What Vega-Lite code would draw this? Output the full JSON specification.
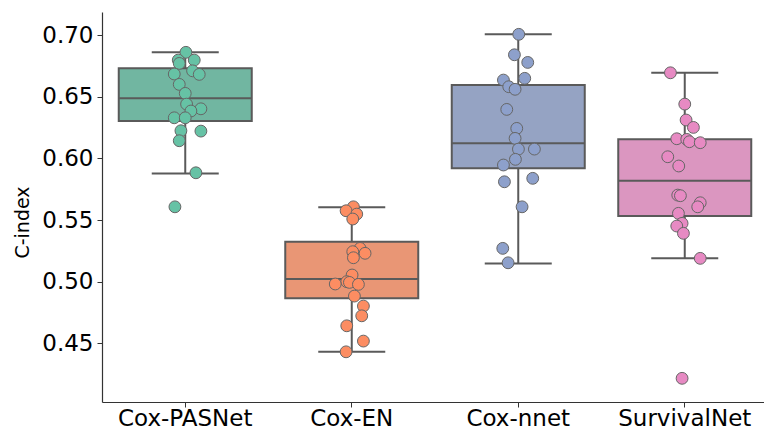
{
  "$schema": "https://vega.github.io/schema/vega-lite/v6.json",
  "autosize": {"type": "none"},
  "width": 662,
  "height": 390,
  "padding": {"left": 102, "top": 12, "right": 0, "bottom": 27},
  "background": "white",
  "config": {
    "view": {"stroke": null},
    "font": "DejaVu Sans",
    "axis": {
      "labelFont": "DejaVu Sans",
      "labelFontSize": 23,
      "labelColor": "#000000",
      "titleFont": "DejaVu Sans",
      "titleFontSize": 19,
      "titleFontWeight": "normal",
      "titleColor": "#000000",
      "tickColor": "#333333",
      "tickSize": 5,
      "domainColor": "#333333",
      "domainWidth": 1.2,
      "grid": false
    }
  },
  "datasets": {
    "boxes": [
      {"model": "Cox-PASNet", "lo": 0.5878, "q1": 0.6303, "med": 0.6487, "q3": 0.6730, "hi": 0.6860},
      {"model": "Cox-EN", "lo": 0.4431, "q1": 0.4865, "med": 0.5021, "q3": 0.5324, "hi": 0.5603},
      {"model": "Cox-nnet", "lo": 0.5148, "q1": 0.5919, "med": 0.6122, "q3": 0.6594, "hi": 0.7006},
      {"model": "SurvivalNet", "lo": 0.5189, "q1": 0.5532, "med": 0.5818, "q3": 0.6154, "hi": 0.6694}
    ],
    "points": [
      {"model": "Cox-PASNet", "cindex": 0.6860, "jitter": 0.004},
      {"model": "Cox-PASNet", "cindex": 0.6797, "jitter": -0.042},
      {"model": "Cox-PASNet", "cindex": 0.6797, "jitter": 0.054},
      {"model": "Cox-PASNet", "cindex": 0.6770, "jitter": -0.036},
      {"model": "Cox-PASNet", "cindex": 0.6684, "jitter": -0.066},
      {"model": "Cox-PASNet", "cindex": 0.6710, "jitter": 0.044},
      {"model": "Cox-PASNet", "cindex": 0.6681, "jitter": 0.084},
      {"model": "Cox-PASNet", "cindex": 0.6600, "jitter": -0.036},
      {"model": "Cox-PASNet", "cindex": 0.6527, "jitter": 0.0},
      {"model": "Cox-PASNet", "cindex": 0.6440, "jitter": 0.008},
      {"model": "Cox-PASNet", "cindex": 0.6402, "jitter": 0.094},
      {"model": "Cox-PASNet", "cindex": 0.6384, "jitter": 0.034},
      {"model": "Cox-PASNet", "cindex": 0.6329, "jitter": -0.066},
      {"model": "Cox-PASNet", "cindex": 0.6329, "jitter": 0.0},
      {"model": "Cox-PASNet", "cindex": 0.6224, "jitter": -0.026},
      {"model": "Cox-PASNet", "cindex": 0.6221, "jitter": 0.094},
      {"model": "Cox-PASNet", "cindex": 0.6143, "jitter": -0.036},
      {"model": "Cox-PASNet", "cindex": 0.5883, "jitter": 0.064},
      {"model": "Cox-PASNet", "cindex": 0.5607, "jitter": -0.062},
      {"model": "Cox-EN", "cindex": 0.5607, "jitter": 0.010},
      {"model": "Cox-EN", "cindex": 0.5575, "jitter": -0.034},
      {"model": "Cox-EN", "cindex": 0.5548, "jitter": 0.030},
      {"model": "Cox-EN", "cindex": 0.5508, "jitter": 0.006},
      {"model": "Cox-EN", "cindex": 0.5270, "jitter": 0.050},
      {"model": "Cox-EN", "cindex": 0.5243, "jitter": 0.006},
      {"model": "Cox-EN", "cindex": 0.5230, "jitter": 0.080},
      {"model": "Cox-EN", "cindex": 0.5194, "jitter": 0.010},
      {"model": "Cox-EN", "cindex": 0.5054, "jitter": 0.002},
      {"model": "Cox-EN", "cindex": 0.5000, "jitter": -0.030},
      {"model": "Cox-EN", "cindex": 0.4981, "jitter": -0.099},
      {"model": "Cox-EN", "cindex": 0.4994, "jitter": -0.014},
      {"model": "Cox-EN", "cindex": 0.4978, "jitter": 0.040},
      {"model": "Cox-EN", "cindex": 0.4883, "jitter": 0.016},
      {"model": "Cox-EN", "cindex": 0.4802, "jitter": 0.070},
      {"model": "Cox-EN", "cindex": 0.4723, "jitter": 0.060},
      {"model": "Cox-EN", "cindex": 0.4642, "jitter": -0.030},
      {"model": "Cox-EN", "cindex": 0.4518, "jitter": 0.070},
      {"model": "Cox-EN", "cindex": 0.4431, "jitter": -0.034},
      {"model": "Cox-nnet", "cindex": 0.7006, "jitter": 0.003},
      {"model": "Cox-nnet", "cindex": 0.6840, "jitter": -0.023},
      {"model": "Cox-nnet", "cindex": 0.6778, "jitter": 0.057},
      {"model": "Cox-nnet", "cindex": 0.6635, "jitter": -0.089},
      {"model": "Cox-nnet", "cindex": 0.6649, "jitter": 0.039},
      {"model": "Cox-nnet", "cindex": 0.6581, "jitter": -0.057},
      {"model": "Cox-nnet", "cindex": 0.6560, "jitter": -0.019},
      {"model": "Cox-nnet", "cindex": 0.6397, "jitter": -0.069},
      {"model": "Cox-nnet", "cindex": 0.6243, "jitter": -0.009},
      {"model": "Cox-nnet", "cindex": 0.6162, "jitter": -0.019},
      {"model": "Cox-nnet", "cindex": 0.6075, "jitter": 0.001},
      {"model": "Cox-nnet", "cindex": 0.6075, "jitter": 0.097},
      {"model": "Cox-nnet", "cindex": 0.5992, "jitter": -0.017},
      {"model": "Cox-nnet", "cindex": 0.5946, "jitter": -0.089},
      {"model": "Cox-nnet", "cindex": 0.5810, "jitter": -0.083},
      {"model": "Cox-nnet", "cindex": 0.5838, "jitter": 0.087},
      {"model": "Cox-nnet", "cindex": 0.5607, "jitter": 0.023},
      {"model": "Cox-nnet", "cindex": 0.5270, "jitter": -0.093},
      {"model": "Cox-nnet", "cindex": 0.5153, "jitter": -0.061},
      {"model": "SurvivalNet", "cindex": 0.6694, "jitter": -0.086},
      {"model": "SurvivalNet", "cindex": 0.6440, "jitter": 0.0},
      {"model": "SurvivalNet", "cindex": 0.6311, "jitter": 0.008},
      {"model": "SurvivalNet", "cindex": 0.6251, "jitter": 0.052},
      {"model": "SurvivalNet", "cindex": 0.6159, "jitter": -0.048},
      {"model": "SurvivalNet", "cindex": 0.6154, "jitter": 0.012},
      {"model": "SurvivalNet", "cindex": 0.6135, "jitter": 0.028},
      {"model": "SurvivalNet", "cindex": 0.6127, "jitter": 0.093},
      {"model": "SurvivalNet", "cindex": 0.6013, "jitter": -0.102},
      {"model": "SurvivalNet", "cindex": 0.5938, "jitter": -0.036},
      {"model": "SurvivalNet", "cindex": 0.5702, "jitter": -0.042},
      {"model": "SurvivalNet", "cindex": 0.5697, "jitter": -0.026},
      {"model": "SurvivalNet", "cindex": 0.5640, "jitter": 0.093},
      {"model": "SurvivalNet", "cindex": 0.5607, "jitter": 0.078},
      {"model": "SurvivalNet", "cindex": 0.5554, "jitter": -0.038},
      {"model": "SurvivalNet", "cindex": 0.5473, "jitter": -0.016},
      {"model": "SurvivalNet", "cindex": 0.5451, "jitter": -0.048},
      {"model": "SurvivalNet", "cindex": 0.5392, "jitter": -0.008},
      {"model": "SurvivalNet", "cindex": 0.5189, "jitter": 0.093},
      {"model": "SurvivalNet", "cindex": 0.4216, "jitter": -0.016}
    ]
  },
  "layer": [
    {
      "mark": {"type": "rule", "color": "#cccccc", "strokeDash": [8, 4], "strokeWidth": 1.5},
      "encoding": {"y": {"datum": 0.5}}
    },
    {
      "mark": {"type": "rule", "color": "#333333", "strokeWidth": 1.2},
      "encoding": {"y": {"datum": 0.7187}}
    },
    {
      "data": {"name": "boxes"},
      "mark": {"type": "rule", "color": "#5a5a5a", "strokeWidth": 2},
      "encoding": {
        "x": {"field": "model", "type": "nominal"},
        "y": {"field": "lo", "type": "quantitative"},
        "y2": {"field": "hi"}
      }
    },
    {
      "data": {"name": "boxes"},
      "mark": {"type": "tick", "color": "#5a5a5a", "size": 67, "thickness": 2, "opacity": 1},
      "encoding": {
        "x": {"field": "model", "type": "nominal"},
        "y": {"field": "lo", "type": "quantitative"}
      }
    },
    {
      "data": {"name": "boxes"},
      "mark": {"type": "tick", "color": "#5a5a5a", "size": 67, "thickness": 2, "opacity": 1},
      "encoding": {
        "x": {"field": "model", "type": "nominal"},
        "y": {"field": "hi", "type": "quantitative"}
      }
    },
    {
      "data": {"name": "boxes"},
      "mark": {"type": "bar", "width": 133, "stroke": "#5a5a5a", "strokeWidth": 2, "opacity": 1},
      "encoding": {
        "x": {"field": "model", "type": "nominal"},
        "y": {"field": "q1", "type": "quantitative"},
        "y2": {"field": "q3"},
        "fill": {
          "field": "model", "type": "nominal", "legend": null,
          "scale": {"domain": ["Cox-PASNet", "Cox-EN", "Cox-nnet", "SurvivalNet"], "range": ["#71b6a1", "#e99675", "#95a3c3", "#db96c0"]}
        }
      }
    },
    {
      "data": {"name": "boxes"},
      "mark": {"type": "tick", "color": "#5a5a5a", "size": 133, "thickness": 2, "opacity": 1},
      "encoding": {
        "x": {"field": "model", "type": "nominal"},
        "y": {"field": "med", "type": "quantitative"}
      }
    },
    {
      "data": {"name": "points"},
      "mark": {"type": "circle", "size": 140, "opacity": 1, "stroke": "#666666", "strokeWidth": 1},
      "encoding": {
        "x": {"field": "model", "type": "nominal"},
        "xOffset": {"field": "jitter", "type": "quantitative", "scale": {"domain": [-0.5, 0.5], "range": [0, 166.5]}},
        "y": {"field": "cindex", "type": "quantitative"},
        "color": {
          "field": "model", "type": "nominal", "legend": null,
          "scale": {"domain": ["Cox-PASNet", "Cox-EN", "Cox-nnet", "SurvivalNet"], "range": ["#66c2a5", "#fc8d62", "#8da0cb", "#e78ac3"]}
        }
      }
    }
  ],
  "encoding": {
    "x": {
      "field": "model", "type": "nominal", "title": null,
      "sort": ["Cox-PASNet", "Cox-EN", "Cox-nnet", "SurvivalNet"],
      "scale": {"domain": ["Cox-PASNet", "Cox-EN", "Cox-nnet", "SurvivalNet"], "range": [0, 666], "paddingInner": 0, "paddingOuter": 0},
      "axis": {"labelAngle": 0, "labelPadding": 0}
    },
    "y": {
      "type": "quantitative", "title": "C-index",
      "scale": {"domain": [0.4024, 0.7187], "nice": false, "zero": false},
      "axis": {"values": [0.45, 0.5, 0.55, 0.6, 0.65, 0.7], "format": ".2f", "labelPadding": 4, "titlePadding": 9, "titleY": 210}
    }
  }
}
